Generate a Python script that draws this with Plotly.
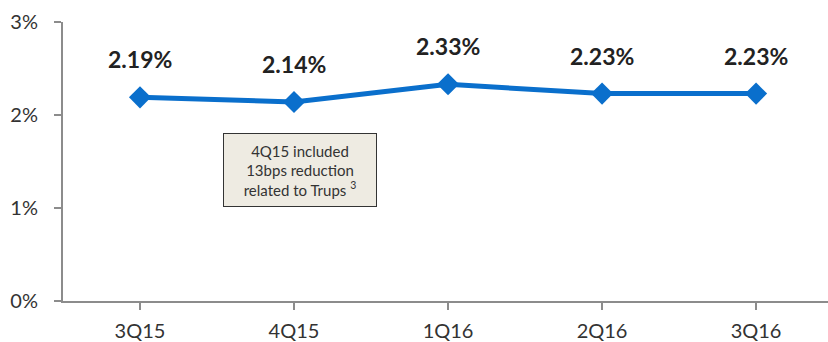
import plotly.graph_objects as go

quarters = ["3Q15", "4Q15", "1Q16", "2Q16", "3Q16"]
ratio_pct = [2.19, 2.14, 2.33, 2.23, 2.23]
y_ticks = [0, 1, 2, 3]
y_tick_labels = ["0%", "1%", "2%", "3%"]

FONT = "Lato, 'Open Sans', sans-serif"
BLUE = "#0A6FCC"

fig = go.Figure()
fig.add_trace(go.Scatter(
    x=list(range(len(quarters))),
    y=ratio_pct,
    mode="lines+markers",
    line=dict(color=BLUE, width=5),
    marker=dict(symbol="diamond", size=17, color=BLUE),
    hoverinfo="skip",
))

# Bold value labels above each point
for i, v in enumerate(ratio_pct):
    fig.add_annotation(
        x=i, y=v, text=f"<b>{v:.2f}%</b>", showarrow=False,
        yshift=38, font=dict(family=FONT, size=23, color="#222222"),
    )

# Footnote box
fig.add_annotation(
    x=1.04, y=1.41, xref="x", yref="y",
    text="4Q15 included<br>13bps reduction<br>related to Trups <sup>3</sup>",
    showarrow=False, align="center",
    font=dict(family=FONT, size=15, color="#333333"),
    bgcolor="#EEEBE2", bordercolor="#333333", borderwidth=1,
    width=150, height=70,
)

fig.update_layout(
    width=828, height=342,
    margin=dict(l=63, r=0, t=22, b=41),
    paper_bgcolor="white", plot_bgcolor="white",
    showlegend=False,
    font=dict(family=FONT, color="#333333"),
)
fig.update_xaxes(
    tickmode="array", tickvals=list(range(len(quarters))), ticktext=quarters,
    range=[-0.5, 4.467],
    showgrid=False, zeroline=False,
    showline=True, linecolor="#8C8C8C", linewidth=2,
    ticks="outside", ticklen=7, tickcolor="#8C8C8C", tickwidth=2,
    tickson="boundaries", ticklabelstandoff=4,
    tickfont=dict(family=FONT, size=20, color="#333333"),
)
fig.update_yaxes(
    range=[0, 3], tickmode="array", tickvals=y_ticks, ticktext=y_tick_labels,
    showgrid=False, zeroline=False,
    showline=True, linecolor="#8C8C8C", linewidth=2,
    ticks="outside", ticklen=7, tickcolor="#8C8C8C", tickwidth=2,
    ticklabelstandoff=12,
    tickfont=dict(family=FONT, size=20, color="#333333"),
)

fig.write_html("out.html")
